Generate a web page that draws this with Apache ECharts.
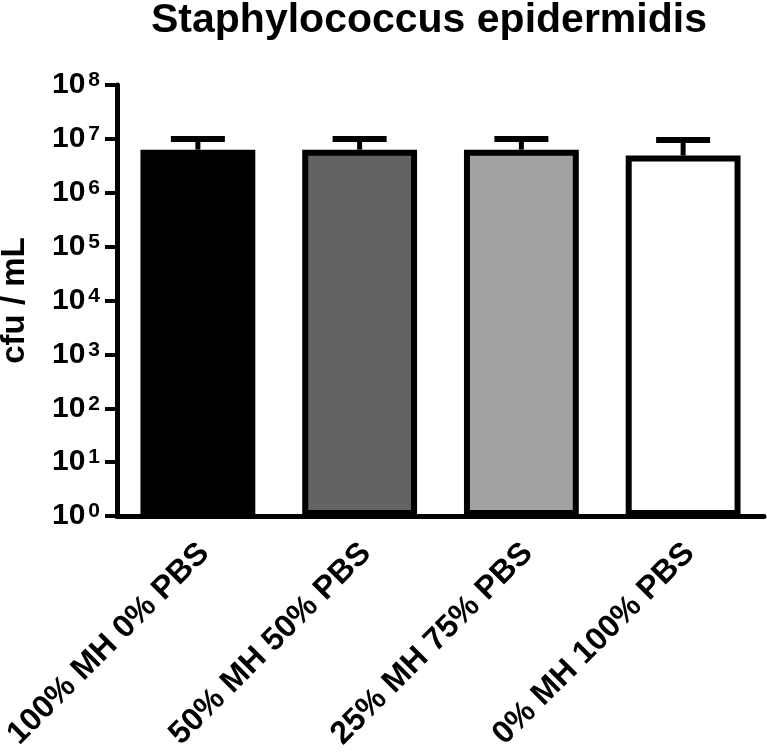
<!DOCTYPE html>
<html>
<head>
<meta charset="utf-8">
<script src="https://cdn.jsdelivr.net/npm/echarts@6/dist/echarts.min.js"></script>
<style>html,body{margin:0;padding:0;background:#fff}#c{width:767px;height:752px}</style>
</head>
<body>
<div id="c"></div>
<script>
var categories = ['100% MH 0% PBS', '50% MH 50% PBS', '25% MH 75% PBS', '0% MH 100% PBS'];
var means = [6.3e6, 6.3e6, 6.3e6, 4.9e6];
var upperErr = [9.9e6, 9.9e6, 9.9e6, 9.5e6];
var barColors = ['#000000', '#636363', '#a1a1a1', '#ffffff'];
var yTickExponents = [0, 1, 2, 3, 4, 5, 6, 7, 8];

var FONT = "'Liberation Sans', Arial, sans-serif";
var chart = echarts.init(document.getElementById('c'));

chart.setOption({
  animation: false,
  title: {
    text: 'Staphylococcus epidermidis',
    left: 151, top: 0, padding: 0,
    textStyle: { fontFamily: FONT, fontWeight: 'bold', fontSize: 41, color: '#000' }
  },
  grid: { left: 117, right: 3, top: 85, bottom: 236, containLabel: false, outerBoundsMode: 'none' },
  xAxis: {
    type: 'category',
    data: categories,
    axisLine: { lineStyle: { color: '#000', width: 5 } },
    axisTick: { alignWithLabel: true, length: 12, lineStyle: { color: '#000', width: 4 } },
    axisLabel: {
      rotate: 45, margin: 26, interval: 0,
      formatter: function (v) { return '{a|' + v + '}'; },
      rich: {
        a: { color: '#000', fontFamily: FONT, fontWeight: 'bold', fontSize: 32, padding: [18, 0, 0, 0] }
      }
    }
  },
  yAxis: {
    type: 'log', logBase: 10, min: 1, max: 1e8,
    name: 'cfu / mL', nameLocation: 'middle', nameGap: 86, nameRotate: 90,
    nameTextStyle: { fontFamily: FONT, fontWeight: 'bold', fontSize: 33, color: '#000' },
    splitLine: { show: false },
    axisLine: { show: true, lineStyle: { color: '#000', width: 5 } },
    axisTick: { show: true, length: 12, lineStyle: { color: '#000', width: 4 } },
    axisLabel: {
      margin: 17,
      formatter: function (v) {
        var e = Math.round(Math.log10(v));
        return yTickExponents.indexOf(e) >= 0 ? '{b|10}{s|' + e + '}' : '';
      },
      rich: {
        b: { fontFamily: FONT, fontWeight: 'bold', fontSize: 30, color: '#000', lineHeight: 30, verticalAlign: 'bottom' },
        s: { fontFamily: FONT, fontWeight: 'bold', fontSize: 21, color: '#000', lineHeight: 30, verticalAlign: 'top', padding: [0, 0, 0, 3] }
      }
    }
  },
  series: [
    {
      type: 'bar',
      barWidth: '71%',
      data: means.map(function (v, i) {
        return { value: v, itemStyle: { color: barColors[i], borderColor: '#000', borderWidth: 6 } };
      }),
      z: 3
    },
    {
      type: 'custom',
      z: 2,
      data: means.map(function (v, i) { return [i, v, upperErr[i]]; }),
      renderItem: function (params, api) {
        var x = api.value(0);
        var base = api.coord([x, api.value(1)]);
        var top = api.coord([x, api.value(2)]);
        var half = 27;
        return {
          type: 'group',
          children: [
            { type: 'line', shape: { x1: base[0], y1: base[1], x2: top[0], y2: top[1] }, style: { stroke: '#000', lineWidth: 5 } },
            { type: 'line', shape: { x1: top[0] - half, y1: top[1], x2: top[0] + half, y2: top[1] }, style: { stroke: '#000', lineWidth: 6 } }
          ]
        };
      }
    }
  ]
});
</script>
</body>
</html>
